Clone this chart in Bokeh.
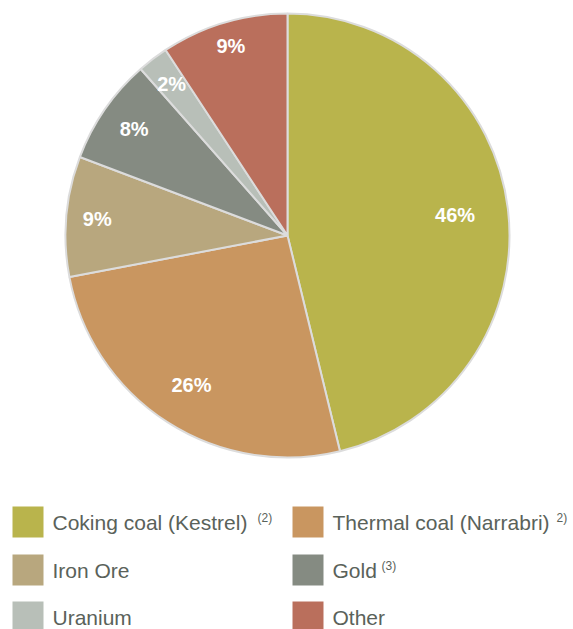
import numpy as np
from bokeh.plotting import figure
from bokeh.models import Range1d, ColumnDataSource
from bokeh.embed import file_html
from bokeh.resources import INLINE
from bokeh.core.properties import value

# ---- data ----
categories = ["Coking coal (Kestrel)", "Thermal coal (Narrabri)", "Iron Ore", "Gold", "Uranium", "Other"]
shares = [46.2, 25.8, 8.75, 7.75, 2.25, 9.25]
footnotes = ["(2)", "2)", "", "(3)", "", ""]
colors = ["#B9B44C", "#C99660", "#B8A77E", "#858B82", "#B8BFB8", "#BA6F5C"]

# ---- layout / style ----
W, H = 573, 629
CX, CY, R = 287, 394, 222
label_rfrac = [0.76, 0.80, 0.86, 0.84, 0.86, 0.89]
FONT = "Liberation Sans"
TEXT_COLOR = "#5A625A"

p = figure(width=W, height=H, x_range=Range1d(0, W), y_range=Range1d(0, H),
           x_axis_type=None, y_axis_type=None, toolbar_location=None,
           output_backend="svg", min_border=0)
p.outline_line_color = None
p.grid.visible = False
p.background_fill_color = "white"
p.border_fill_color = "white"

total = sum(shares)
cum = np.concatenate([[0], np.cumsum(shares)]) / total
start = np.pi / 2 - 2 * np.pi * cum[:-1]
end = np.pi / 2 - 2 * np.pi * cum[1:]
mid = (start + end) / 2
labels = [f"{round(s / total * 100)}%" for s in shares]

src = ColumnDataSource(dict(start=start, end=end, color=colors))
p.wedge(x=CX, y=CY, radius=R, start_angle="start", end_angle="end", direction="clock",
        fill_color="color", line_color="#DCDCDC", line_width=2, source=src)

lx = [CX + f * R * np.cos(a) for f, a in zip(label_rfrac, mid)]
ly = [CY + f * R * np.sin(a) for f, a in zip(label_rfrac, mid)]
p.text(x=lx, y=ly, text=labels, text_color="white", text_font=value(FONT),
       text_font_size="20px", text_font_style="bold", text_align="center",
       text_baseline="middle")

# ---- legend ----
col_x = [12, 292]
row_top = [123, 75, 28]
SW = 31
order = [(0, 0, 0), (1, 1, 0), (2, 0, 1), (3, 1, 1), (4, 0, 2), (5, 1, 2)]
sup_x = {0: 257, 1: 556, 3: 381}
for i, c, r in order:
    x0 = col_x[c]
    yt = row_top[r]
    p.quad(left=x0, right=x0 + SW, top=yt, bottom=yt - SW, fill_color=colors[i], line_color=None)
    yc = yt - SW / 2
    p.text(x=[x0 + 40], y=[yc - 0.5], text=[categories[i]], text_color=TEXT_COLOR,
           text_font=value(FONT), text_font_size="21px", text_baseline="middle")
    if footnotes[i]:
        p.text(x=[sup_x[i]], y=[yc + 4], text=[footnotes[i]], text_color=TEXT_COLOR,
               text_font=value(FONT), text_font_size="12px", text_baseline="middle")

open("out.html", "w").write(file_html(p, INLINE))
